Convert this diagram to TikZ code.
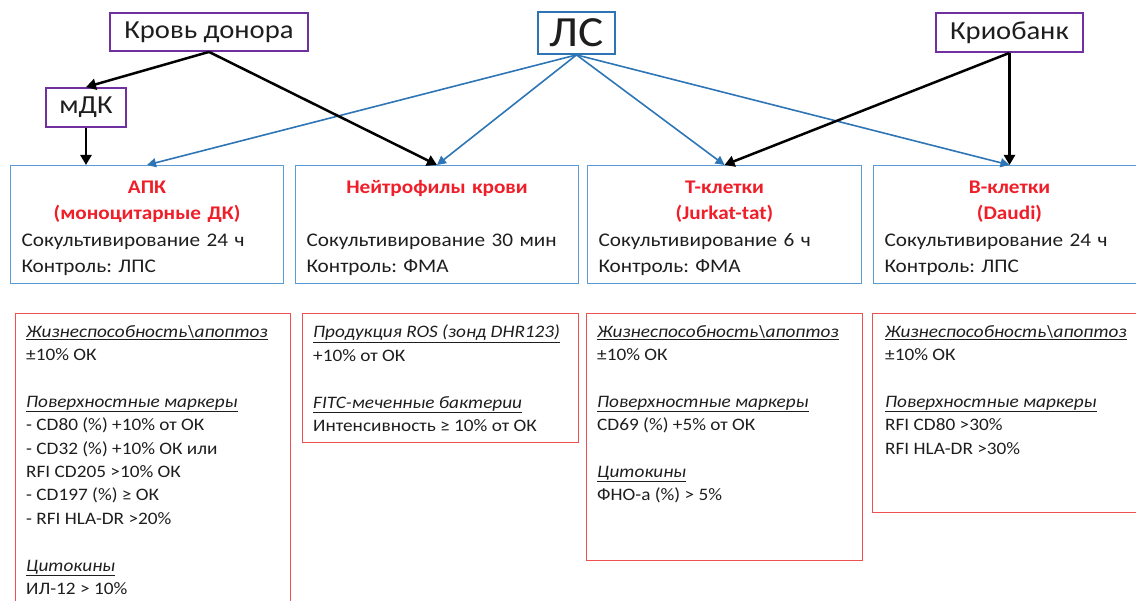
\documentclass[tikz,border=0pt]{standalone}
\usepackage{fontspec}
\setmainfont{Carlito}[FakeStretch=1.1]
\usetikzlibrary{arrows.meta}
\frenchspacing

\definecolor{srcpurple}{RGB}{112,48,160}
\definecolor{drugblue}{RGB}{46,117,182}
\definecolor{cellblue}{RGB}{91,155,213}
\definecolor{critred}{RGB}{238,80,80}
\definecolor{titlered}{RGB}{240,30,40}
\definecolor{txtgray}{RGB}{30,30,30}

% red bold title lines in the cell boxes
\newcommand{\celltitle}[1]{{\centering\color{titlered}\bfseries\rule{0pt}{20pt}#1\par}}
\newcommand{\crithead}[1]{\underline{\textit{#1}}}

\begin{document}
\begin{tikzpicture}[x=1pt,y=-1pt,
    srcbox/.style={draw=srcpurple, line width=1.8pt, inner sep=0pt, text=txtgray, font=\fontsize{26}{30}\selectfont},
    cellbox/.style={draw=cellblue, line width=1pt, anchor=north west, minimum height=118pt, inner xsep=11pt, inner ysep=0pt, align=left, text=txtgray, font=\fontsize{19.3}{26.5}\selectfont},
    critbox/.style={draw=critred, line width=1.2pt, anchor=north west, inner sep=0pt},
    crittxt/.style={anchor=north west, inner sep=0pt, align=left, text=txtgray, font=\fontsize{17.5}{23.4}\selectfont},
    blackarrow/.style={black, line width=2.5pt, -{Triangle[length=10pt,width=11pt]}},
    bluearrow/.style={drugblue, line width=1.6pt, -{Triangle[length=9pt,width=9pt]}}]
\useasboundingbox (0,0) rectangle (1136,601);

% sources
\node[srcbox, minimum width=198pt, minimum height=38pt] (donor) at (209,32) {Кровь донора};
\node[srcbox, minimum width=80pt, minimum height=39pt] (mdc) at (86,107.5) {мДК};
\node[srcbox, draw=drugblue, minimum width=77pt, minimum height=42pt, font=\fontsize{43}{46}\selectfont] (drug) at (576.5,33) {ЛС};
\node[srcbox, minimum width=147pt, minimum height=39pt] (cryo) at (1009.5,32.5) {Криобанк};

% target cells
\node[cellbox, text width=251pt] (apk) at (10,165) {\celltitle{АПК\\(моноцитарные ДК)}Сокультивирование 24 ч\\Контроль: ЛПС};
\node[cellbox, text width=261pt] (neut) at (295,165) {\celltitle{Нейтрофилы крови\\~}Сокультивирование 30 мин\\Контроль: ФМА};
\node[cellbox, text width=252pt] (tcell) at (587,165) {\celltitle{Т-клетки\\(Jurkat-tat)}Сокультивирование 6 ч\\Контроль: ФМА};
\node[cellbox, text width=250pt] (bcell) at (873,165) {\celltitle{В-клетки\\(Daudi)}Сокультивирование 24 ч\\Контроль: ЛПС};

% criteria
\node[critbox, minimum width=275pt, minimum height=300pt] (crit1) at (15,313) {};
\node[critbox, minimum width=276pt, minimum height=129pt] (crit2) at (302,313) {};
\node[critbox, minimum width=276pt, minimum height=247pt] (crit3) at (586,313) {};
\node[critbox, minimum width=280pt, minimum height=199pt] (crit4) at (872,313) {};

\node[crittxt] (crit1txt) at (26,325) {\crithead{Жизнеспособность\textbackslash апоптоз}\\±10\% ОК\\~\\\crithead{Поверхностные маркеры}\\- CD80 (\%) +10\% от ОК\\- CD32 (\%) +10\% ОК или\\RFI CD205 >10\% ОК\\- CD197 (\%) ≥ ОК\\- RFI HLA-DR >20\%\\~\\\crithead{Цитокины}\\ИЛ-12 > 10\%};
\node[crittxt] (crit2txt) at (313,325) {\crithead{Продукция ROS (зонд DHR123)}\\+10\% от ОК\\~\\\crithead{FITC-меченные бактерии}\\Интенсивность ≥ 10\% от ОК};
\node[crittxt] (crit3txt) at (597,325) {\crithead{Жизнеспособность\textbackslash апоптоз}\\±10\% ОК\\~\\\crithead{Поверхностные маркеры}\\CD69 (\%) +5\% от ОК\\~\\\crithead{Цитокины}\\ФНО-а (\%) > 5\%};
\node[crittxt] (crit4txt) at (885,325) {\crithead{Жизнеспособность\textbackslash апоптоз}\\±10\% ОК\\~\\\crithead{Поверхностные маркеры}\\RFI CD80 >30\%\\RFI HLA-DR >30\%};

% connectors
\draw[bluearrow] (drug.south) -- (apk.north);
\draw[bluearrow] (drug.south) -- (neut.north);
\draw[bluearrow] (drug.south) -- (tcell.north);
\draw[bluearrow] (drug.south) -- (bcell.north);
\draw[blackarrow] (donor.south) -- (mdc.north);
\draw[blackarrow] (donor.south) -- (neut.north);
\draw[blackarrow] (mdc.south) -- (mdc.south |- apk.north);
\draw[blackarrow] (cryo.south) -- (tcell.north);
\draw[blackarrow] (cryo.south) -- (bcell.north);
\end{tikzpicture}
\end{document}
